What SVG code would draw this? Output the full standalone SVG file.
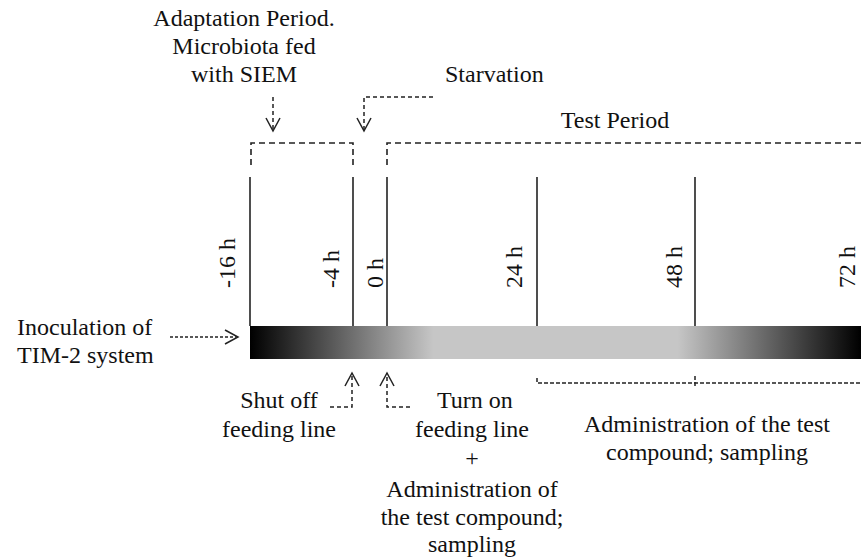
<svg xmlns="http://www.w3.org/2000/svg" width="861" height="560" viewBox="0 0 861 560">
<style>
text{font-family:"Liberation Serif","Times New Roman",serif;font-size:24px;fill:#111}
.c{text-anchor:middle}
.r{text-anchor:start}
.tick{stroke:#222;stroke-width:1.6;fill:none}
.br{stroke:#222;stroke-width:1.6;fill:none;stroke-dasharray:6 4}
.br2{stroke:#222;stroke-width:1.5;fill:none;stroke-dasharray:4 2}
.ar{stroke:#222;stroke-width:1.5;fill:none;stroke-dasharray:4 3}
</style>
<defs>
<linearGradient id="g" x1="250" y1="0" x2="861" y2="0" gradientUnits="userSpaceOnUse">
<stop offset="0" stop-color="#000"/>
<stop offset="0.30" stop-color="#c6c6c6"/>
<stop offset="0.70" stop-color="#c6c6c6"/>
<stop offset="1" stop-color="#000"/>
</linearGradient>
<marker id="a" markerUnits="userSpaceOnUse" markerWidth="18" markerHeight="18" refX="14" refY="8" orient="auto">
<path d="M1,1 L14,8 L1,15" fill="none" stroke="#222" stroke-width="1.5"/>
</marker>
</defs>
<g id="bar">
<rect x="250" y="326" width="611" height="33" fill="url(#g)"/>
</g>
<g id="timepoints">
<line class="tick" x1="250" y1="177" x2="250" y2="326"/>
<line class="tick" x1="353" y1="177" x2="353" y2="326"/>
<line class="tick" x1="387" y1="177" x2="387" y2="326"/>
<line class="tick" x1="537" y1="177" x2="537" y2="326"/>
<line class="tick" x1="695" y1="177" x2="695" y2="326"/>
<text class="r" transform="translate(235,288) rotate(-90)">-16 h</text>
<text class="r" transform="translate(339,288) rotate(-90)">-4 h</text>
<text class="r" transform="translate(383,288) rotate(-90)">0 h</text>
<text class="r" transform="translate(522,288) rotate(-90)">24 h</text>
<text class="r" transform="translate(682,288) rotate(-90)">48 h</text>
<text class="r" transform="translate(855,288) rotate(-90)">72 h</text>
</g>
<g id="adaptation">
<text class="c" x="244" y="26">Adaptation Period.</text>
<text class="c" x="244" y="54">Microbiota fed</text>
<text class="c" x="244" y="82">with SIEM</text>
</g>
<g id="starvation">
<text x="445" y="82">Starvation</text>
</g>
<g id="test-period">
<text class="c" x="615" y="128">Test Period</text>
</g>
<g id="inoculation">
<text x="17" y="335">Inoculation of</text>
<text x="17" y="363">TIM-2 system</text>
</g>
<g id="shut-off">
<text class="c" x="279" y="408">Shut off</text>
<text class="c" x="279" y="437">feeding line</text>
</g>
<g id="turn-on">
<text x="437" y="408">Turn on</text>
<text class="c" x="472" y="437">feeding line</text>
<text class="c" x="472" y="466">+</text>
<text class="c" x="472" y="497">Administration of</text>
<text class="c" x="472" y="525">the test compound;</text>
<text class="c" x="472" y="552">sampling</text>
</g>
<g id="administration">
<text class="c" x="707" y="432">Administration of the test</text>
<text class="c" x="707" y="460">compound; sampling</text>
</g>
<g id="connectors">
<path class="br" d="M251,165 L251,143 L353,143 L353,165"/>
<path class="br" d="M387,165 L387,143 L861,143"/>
<path class="br2" d="M537,378 L537,383 L861,383"/>
<path class="br2" d="M695,376 L695,387"/>
<path class="ar" d="M273,97 L273,131" marker-end="url(#a)"/>
<path class="ar" d="M433,97 L364,97 L364,131" marker-end="url(#a)"/>
<path class="ar" d="M170,337 L238,337" style="stroke-dasharray:3 2" marker-end="url(#a)"/>
<path class="ar" d="M330,407 L352,407 L352,373" marker-end="url(#a)"/>
<path class="ar" d="M410,407 L387,407 L387,373" marker-end="url(#a)"/>
</g>
</svg>
